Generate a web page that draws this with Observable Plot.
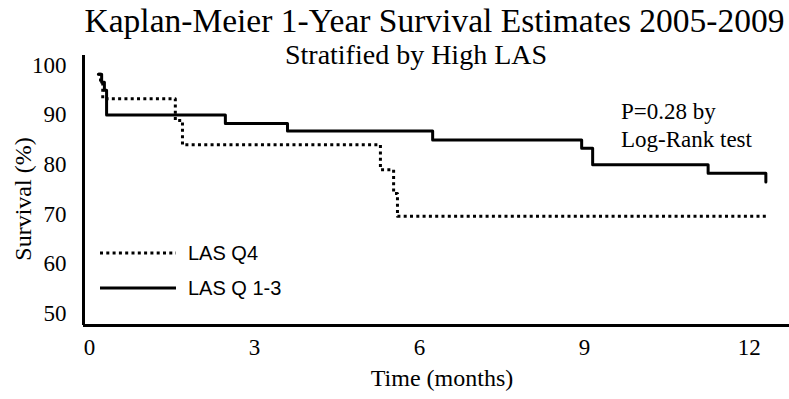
<!DOCTYPE html>
<html>
<head>
<meta charset="utf-8">
<script src="https://cdn.jsdelivr.net/npm/d3@7"></script>
<script src="https://cdn.jsdelivr.net/npm/@observablehq/plot@0.6"></script>
<style>
  html, body { margin: 0; padding: 0; background: #fff; }
  #wrap { position: relative; width: 789px; height: 399px; overflow: hidden; font-family: "Liberation Serif", "Times New Roman", serif; color: #000; }
  #wrap svg.plot { position: absolute; left: 0; top: 0; }
  .t { position: absolute; white-space: nowrap; line-height: 1; }
</style>
</head>
<body>
<div id="wrap">
  <div class="t" id="title" style="left:0;width:869px;top:4px;text-align:center;font-size:33.5px;">Kaplan-Meier 1-Year Survival Estimates 2005-2009</div>
  <div class="t" id="subtitle" style="left:0;width:832px;top:41px;text-align:center;font-size:28px;">Stratified by High LAS</div>
  <div class="t" id="ylab" style="left:23px;top:199px;font-size:24px;transform:translate(-50%,-50%) rotate(-90deg);">Survival (%)</div>
  <div class="t" id="xlab" style="left:0;width:884px;top:366px;text-align:center;font-size:24px;">Time (months)</div>
  <div class="t" id="note" style="left:621px;top:98px;font-size:23px;line-height:28px;">P=0.28 by<br>Log-Rank test</div>
  <div id="legend" style="position:absolute;left:0;top:0;"></div>
</div>
<script>
// Data
const seriesNames = ["LAS Q4", "LAS Q 1-3"];
// LAS Q4 (dotted) : time in months, survival %
const q4Time = [0.16, 0.20, 0.24, 1.56, 1.69, 5.29, 5.53, 5.60, 12.30];
const q4Surv = [98.2, 96.5, 93.3, 88.9, 84.0, 79.0, 74.2, 69.6, 69.6];
// LAS Q 1-3 (solid)
const q13Time = [0.16, 0.22, 0.27, 0.31, 2.47, 3.60, 6.24, 8.95, 9.15, 11.25, 12.30];
const q13Surv = [98.2, 96.6, 95.0, 90.0, 88.3, 86.8, 85.0, 83.3, 80.0, 78.3, 76.5];
const xTicks = [0, 3, 6, 9, 12];
const yTicks = [50, 60, 70, 80, 90, 100];
const xDomain = [-0.11, 12.73];
const yDomain = [47.6, 102];

const q4 = q4Time.map((t, i) => ({t, s: q4Surv[i]}));
const q13 = q13Time.map((t, i) => ({t, s: q13Surv[i]}));

const chart = Plot.plot({
  width: 789,
  height: 399,
  marginLeft: 83,
  marginRight: 0,
  marginTop: 55,
  marginBottom: 74,
  x: {domain: xDomain},
  y: {domain: yDomain},
  style: {fontFamily: '"Liberation Serif", "Times New Roman", serif', fontSize: "23px", color: "#000", background: "transparent", overflow: "visible"},
  marks: [
    Plot.axisY({ticks: yTicks, tickSize: 0, tickPadding: 17, label: null, fontSize: 23}),
    Plot.axisX({ticks: xTicks, tickSize: 0, tickPadding: 13, label: null, fontSize: 23}),
    Plot.line(q4, {x: "t", y: "s", curve: "step-after", stroke: "#000", strokeWidth: 3, strokeDasharray: "3,3.3", strokeLinecap: "butt"}),
    Plot.line(q13, {x: "t", y: "s", curve: "step-after", stroke: "#000", strokeWidth: 3}),
    Plot.ruleX([xDomain[0]], {stroke: "#000", strokeWidth: 3}),
    Plot.ruleY([yDomain[0]], {stroke: "#000", strokeWidth: 3})
  ]
});
chart.classList.add("plot");
document.getElementById("wrap").insertBefore(chart, document.getElementById("legend"));

// Legend (annotation, not data marks)
const lg = d3.select("#legend").append("svg").attr("width", 300).attr("height", 320)
  .style("position", "absolute").style("left", "0px").style("top", "0px");
const rows = [
  {name: seriesNames[0], dash: "3,3.3", y: 253},
  {name: seriesNames[1], dash: null, y: 288}
];
rows.forEach(r => {
  lg.append("line").attr("x1", 100).attr("x2", 176).attr("y1", r.y).attr("y2", r.y)
    .attr("stroke", "#000").attr("stroke-width", 3).attr("stroke-dasharray", r.dash);
  lg.append("text").attr("x", 188).attr("y", r.y).attr("dy", "0.36em")
    .attr("font-family", '"Liberation Sans", Arial, sans-serif').attr("font-size", 20)
    .text(r.name);
});
</script>
</body>
</html>
